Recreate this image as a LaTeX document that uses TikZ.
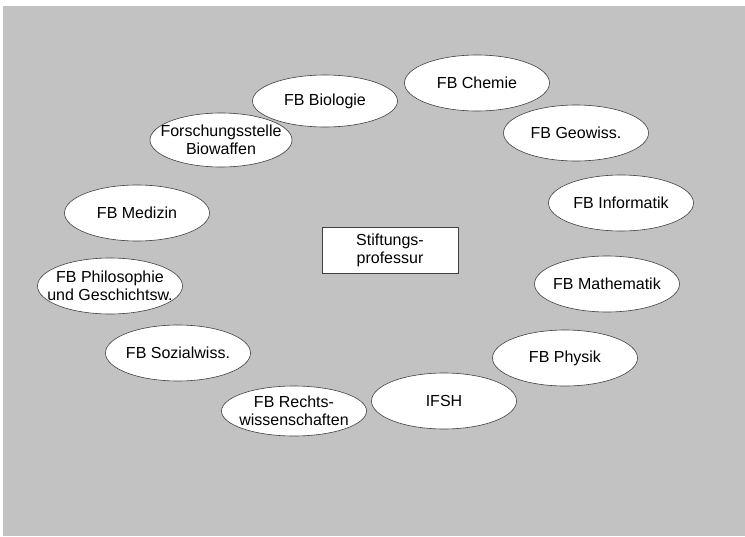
\documentclass[tikz,border=0pt]{standalone}
\usepackage{fontspec}
\setmainfont{Liberation Sans}
\usepackage{tikz}
\usetikzlibrary{shapes.geometric}

\begin{document}
\begin{tikzpicture}[x=1pt,y=-1pt,
  font=\fontsize{16}{18}\selectfont,
  bg/.style={fill=black!24},
  fb/.style={ellipse,draw=black!75,line width=0.6pt,fill=white,minimum width=145pt,minimum height=56pt,inner xsep=-20pt,inner ysep=0pt,align=center},
  box/.style={rectangle,draw=black!75,line width=0.6pt,fill=white,minimum width=136pt,minimum height=46pt,inner sep=0pt,align=center}]
  \useasboundingbox (0,0) rectangle (745,536);
  % background
  \fill[bg] (3,6) rectangle (745,536);
  % centre
  \node[box] (stift) at (390,250) {Stiftungs-\\professur};
  % ring of departments, clockwise from the top
  \node[fb] (chem) at (477,83) {FB Chemie};
  \node[fb] (geo) at (576,133) {FB Geowiss.};
  \node[fb] (inf) at (621,203) {FB Informatik};
  \node[fb] (math) at (607,284) {FB Mathematik};
  \node[fb] (phys) at (565,358) {FB Physik};
  \node[fb] (ifsh) at (444,401) {IFSH};
  \node[fb,minimum height=50pt] (rechts) at (294,411) {FB Rechts-\\wissenschaften};
  \node[fb] (sozial) at (178,353) {FB Sozialwiss.};
  \node[fb] (philo) at (110,286) {FB Philosophie\\und Geschichtsw.};
  \node[fb] (med) at (137,213) {FB Medizin};
  \node[fb,minimum width=142pt,minimum height=54pt] (biowaff) at (221,140) {Forschungsstelle\\Biowaffen};
  \node[fb,minimum height=52pt] (bio) at (325,101) {FB Biologie};
\end{tikzpicture}
\end{document}
